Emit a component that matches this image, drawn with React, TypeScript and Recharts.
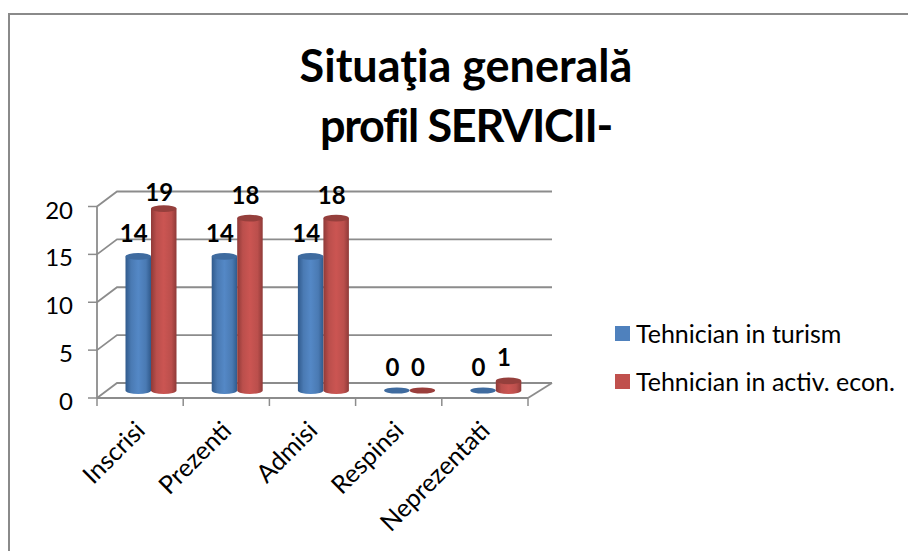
import React from "react";
import { BarChart, Bar, XAxis, YAxis, CartesianGrid, Legend, LabelList } from "recharts";

const categories = ["Inscrisi", "Prezenti", "Admisi", "Respinsi", "Neprezentati"];
const turism = [14, 14, 14, 0, 0];
const econ = [19, 18, 18, 0, 1];
const yTicks = [0, 5, 10, 15, 20];
const titleLines = ["Situaţia generală", "profil SERVICII-"];
const seriesNames = ["Tehnician in turism", "Tehnician in activ. econ."];

const rows = categories.map((name, i) => ({ name, turism: turism[i], econ: econ[i] }));

const W = 908, H = 551;
const LEFT = 97, RIGHT_X = 528, TOP = 206.5, BOTTOM = 398;
const BAND = (RIGHT_X - LEFT) / categories.length;
const DX = 10.5, DY = -7.5; // bars stand at mid-depth of the 3D floor
const BACK_DX = 20, BACK_DX_R = 24, BACK_DY = -15;
const GRID = "#8c8c8c";
const FONT = "Lato, 'Open Sans', sans-serif";
const RY = 3.4;

const palette = {
  blue: { grad: "cylBlue", top: "#3f6b9f", flat: "#3f6b9f", swatch: "#4f81bd" },
  red: { grad: "cylRed", top: "#953f3c", flat: "#9a3e3b", swatch: "#c0504d" },
};

function Cylinder(props: any) {
  const { x, y, width, height, kind } = props;
  const c = palette[kind as "blue" | "red"];
  const cx = x + DX + width / 2;
  const rx = width / 2;
  const top = y + DY;
  const base = y + height + DY;
  if (height < 1) {
    return <ellipse cx={cx} cy={base} rx={rx} ry={RY * 0.9} fill={c.flat} />;
  }
  const l = cx - rx, r = cx + rx;
  return (
    <g>
      <path
        d={`M${l},${top} L${l},${base} A${rx},${RY} 0 0 0 ${r},${base} L${r},${top} Z`}
        fill={`url(#${c.grad})`}
      />
      <ellipse cx={cx} cy={top} rx={rx} ry={RY} fill={c.top} />
    </g>
  );
}

function BarLabel(props: any) {
  const { x, y, width, value } = props;
  const cy = Math.max(y + DY - 24, 191);
  return (
    <text
      x={x + DX + width / 2 - 4.5}
      y={cy}
      textAnchor="middle"
      dominantBaseline="central"
      fontFamily={FONT}
      fontWeight={700}
      fontSize={24}
      fill="#000"
    >
      {value}
    </text>
  );
}

function CategoryTick(props: any) {
  const { x, y, payload, index } = props;
  const left = x - BAND / 2;
  const tx = x + 6.5;
  const ty = y + 26;
  return (
    <g>
      <line x1={left} y1={BOTTOM} x2={left} y2={BOTTOM + 8} stroke={GRID} strokeWidth={1.5} />
      {index === categories.length - 1 && (
        <line x1={x + BAND / 2} y1={BOTTOM} x2={x + BAND / 2} y2={BOTTOM + 8} stroke={GRID} strokeWidth={1.5} />
      )}
      <text
        x={tx}
        y={ty}
        textAnchor="end"
        fontFamily={FONT}
        fontSize={25}
        fill="#000"
        transform={`rotate(-45 ${tx} ${ty})`}
      >
        {payload.value}
      </text>
    </g>
  );
}

function ValueTick(props: any) {
  const { x, y, payload } = props;
  return (
    <text x={x} y={y + 2.5} textAnchor="end" dominantBaseline="central" fontFamily={FONT} fontSize={24} fill="#000">
      {payload.value}
    </text>
  );
}

function GridLine(props: any) {
  const { x1, x2, y1 } = props;
  const floor = Math.abs(y1 - BOTTOM) < 1;
  return (
    <g fill="none" stroke={GRID} strokeWidth={1.8}>
      <polyline points={`${x1},${y1} ${x1 + BACK_DX},${y1 + BACK_DY} ${x2 + BACK_DX_R},${y1 + BACK_DY}`} />
      {floor && <polyline points={`${x2},${y1} ${x2 + BACK_DX_R},${y1 + BACK_DY}`} />}
    </g>
  );
}

function LegendBox() {
  const items = [palette.blue.swatch, palette.red.swatch];
  return (
    <div style={{ fontFamily: FONT, fontSize: 25, color: "#000" }}>
      {items.map((color, i) => (
        <div key={i} style={{ display: "flex", alignItems: "center", height: 48, whiteSpace: "nowrap" }}>
          <span style={{ width: 15, height: 15, background: color, marginRight: 6, display: "inline-block" }} />
          {seriesNames[i]}
        </div>
      ))}
    </div>
  );
}

export default function App() {
  return (
    <div style={{ position: "absolute", left: 0, top: 0, width: W, height: H, overflow: "hidden", background: "#fff" }}>
      <div style={{ position: "absolute", left: 8, top: 13, width: W, height: H, borderLeft: "2px solid #8a8a8a", borderTop: "2px solid #8a8a8a" }} />
      <div
        style={{
          position: "absolute",
          left: 166,
          width: 600,
          top: 35,
          textAlign: "center",
          fontFamily: FONT,
          fontWeight: 700,
          fontSize: 45,
          lineHeight: "60px",
          color: "#000",
          fontVariantLigatures: "none",
        }}
      >
        {titleLines.map((t, i) => (
          <div key={t} style={{ letterSpacing: i === 1 ? "-1.3px" : undefined }}>{t}</div>
        ))}
      </div>
      <div style={{ position: "absolute", left: 0, top: 0 }}>
        <BarChart
          width={W}
          height={H}
          data={rows}
          margin={{ top: TOP, left: 0, right: W - RIGHT_X, bottom: 0 }}
          barGap={0}
          barCategoryGap={17.6}
        >
          <defs>
            <linearGradient id="cylBlue" x1="0" y1="0" x2="1" y2="0">
              <stop offset="0" stopColor="#305a8c" />
              <stop offset="0.22" stopColor="#4a7ab3" />
              <stop offset="0.5" stopColor="#5488c6" />
              <stop offset="0.8" stopColor="#4a7ab3" />
              <stop offset="1" stopColor="#305a8c" />
            </linearGradient>
            <linearGradient id="cylRed" x1="0" y1="0" x2="1" y2="0">
              <stop offset="0" stopColor="#8f3a38" />
              <stop offset="0.22" stopColor="#bb4f4c" />
              <stop offset="0.5" stopColor="#cb5552" />
              <stop offset="0.8" stopColor="#bb4f4c" />
              <stop offset="1" stopColor="#8f3a38" />
            </linearGradient>
          </defs>
          <CartesianGrid vertical={false} horizontal={(p: any) => <GridLine {...p} />} />
          <XAxis
            dataKey="name"
            axisLine={{ stroke: GRID, strokeWidth: 1.8 }}
            tickLine={false}
            interval={0}
            height={H - BOTTOM}
            tick={(p: any) => <CategoryTick {...p} />}
          />
          <YAxis
            width={LEFT}
            domain={[0, 20]}
            ticks={yTicks}
            interval={0}
            axisLine={{ stroke: GRID, strokeWidth: 1.8 }}
            tickLine={{ stroke: GRID, strokeWidth: 1.5 }}
            tickSize={9}
            tickMargin={15}
            tick={(p: any) => <ValueTick {...p} />}
          />
          <Bar
            dataKey="turism"
            name={seriesNames[0]}
            isAnimationActive={false}
            barSize={25.5}
            shape={(p: any) => <Cylinder {...p} kind="blue" />}
          >
            <LabelList dataKey="turism" content={(p: any) => <BarLabel {...p} />} />
          </Bar>
          <Bar
            dataKey="econ"
            name={seriesNames[1]}
            isAnimationActive={false}
            barSize={25.5}
            shape={(p: any) => <Cylinder {...p} kind="red" />}
          >
            <LabelList dataKey="econ" content={(p: any) => <BarLabel {...p} />} />
          </Bar>
          <Legend
            layout="vertical"
            align="center"
            verticalAlign="middle"
            content={() => <LegendBox />}
            wrapperStyle={{ position: "absolute", left: 615, top: 309, width: 290 }}
          />
        </BarChart>
      </div>
    </div>
  );
}
